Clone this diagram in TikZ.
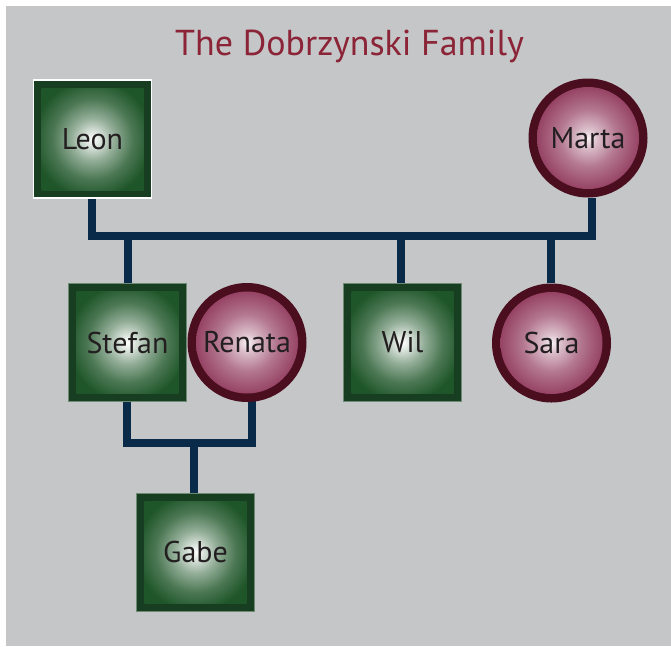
\documentclass[tikz,border=0pt]{standalone}
\usepackage{fontspec}
\setmainfont{PT Sans}
\usetikzlibrary{backgrounds}
\definecolor{bggray}{HTML}{C5C6C8}
\definecolor{titlered}{HTML}{8B2436}
\definecolor{gdark}{HTML}{173E21}
\definecolor{gmid}{HTML}{1F5629}
\definecolor{gedge}{HTML}{6F8A74}
\definecolor{rdark}{HTML}{4A0E1F}
\definecolor{rmid}{HTML}{7D163F}
\definecolor{navy}{HTML}{0A2A4A}
\definecolor{txt}{HTML}{231F20}
\pgfdeclareradialshading{greenglow}{\pgfpoint{0bp}{0bp}}{color(0bp)=(white); color(3bp)=(white!85!gmid); color(9bp)=(white!52!gmid); color(17bp)=(white!20!gmid); color(25bp)=(gmid); color(50bp)=(gmid)}
\pgfdeclareradialshading{pinkglow}{\pgfpoint{0bp}{0bp}}{color(0bp)=(white!94!rmid); color(4bp)=(white!72!rmid); color(12bp)=(white!42!rmid); color(22bp)=(white!18!rmid); color(32bp)=(rmid); color(50bp)=(rmid)}
\tikzset{
  malebox/.style={rectangle, minimum size=118pt, inner sep=0pt, fill=gdark, draw=gedge, line width=0.6pt,
    path picture={\shade[shading=greenglow] ([shift={(8pt,8pt)}]path picture bounding box.south west) rectangle ([shift={(-8pt,-8pt)}]path picture bounding box.north east);},
    font=\fontsize{30}{32}\selectfont, text=txt},
  femcircle/.style={circle, minimum size=119pt, inner sep=0pt, fill=rdark,
    path picture={\shade[shading=pinkglow] (path picture bounding box.center) circle[radius=51pt];},
    font=\fontsize{30}{32}\selectfont, text=txt},
  famline/.style={draw=navy, line width=8pt, line join=miter},
}
\begin{document}
\begin{tikzpicture}[x=1pt,y=-1pt]
\useasboundingbox (0,0) rectangle (671,646);
\node[malebox, draw=white, line width=1.5pt] (leon) at (92.5,139) {Leon};
\node[femcircle] (marta) at (588,138) {Marta};
\node[malebox] (stefan) at (127.5,342.5) {Stefan};
\node[femcircle] (renata) at (247,342.5) {Renata};
\node[malebox] (wil) at (402.5,342.5) {Wil};
\node[femcircle] (sara) at (551.5,343) {Sara};
\node[malebox] (gabe) at (195.5,552) {Gabe};
\node[text=titlered, font=\fontsize{36}{40}\selectfont] (title) at (349.5,46) {The Dobrzynski Family};
\coordinate (bar) at (0,236);
\coordinate (sr) at (0,443);
\begin{scope}[on background layer]
\fill[bggray] (6,6) rectangle (671,646);
\draw[famline] ([xshift=-0.5pt]leon.south) |- ([xshift=4pt]marta.south |- bar) -- ([xshift=4pt]marta.south);
\draw[famline] ([xshift=0.5pt]stefan.north) -- ([xshift=0.5pt]stefan.north |- bar);
\draw[famline] ([xshift=-1.5pt]wil.north) -- ([xshift=-1.5pt]wil.north |- bar);
\draw[famline] ([xshift=-0.5pt]sara.north) -- ([xshift=-0.5pt]sara.north |- bar);
\draw[famline] ([xshift=-1pt]stefan.south) |- ([xshift=5pt]renata.south |- sr) -- ([xshift=5pt]renata.center);
\draw[famline] ([xshift=-1.5pt]gabe.north) -- ([xshift=-1.5pt]gabe.north |- sr);
\end{scope}
\end{tikzpicture}
\end{document}
